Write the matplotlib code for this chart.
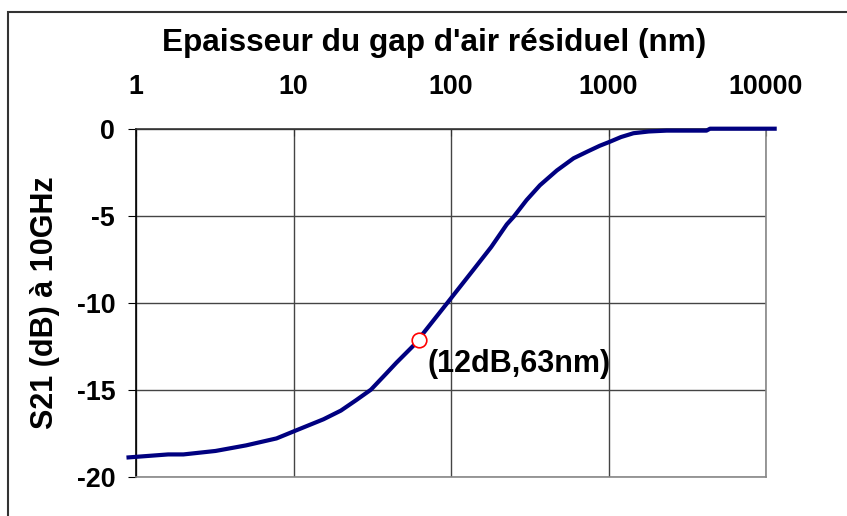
import matplotlib
matplotlib.use("Agg")
import matplotlib.pyplot as plt
import matplotlib.patches as mpatches
from matplotlib.ticker import FixedLocator, NullLocator

plt.rcParams["font.family"] = ["Liberation Sans", "DejaVu Sans"]
plt.rcParams["font.weight"] = "bold"
plt.rcParams["axes.unicode_minus"] = False

# ── données ──
gap_nm = [0.87, 1.6, 2.0, 3.2, 5.0, 7.8, 10, 15.5, 20, 25, 31, 39, 45, 58,
          95, 139, 180, 226, 250, 302, 367, 470, 600, 740, 880, 1020, 1200,
          1440, 1800, 2340, 4190, 4410, 11700]
s21_db = [-18.9, -18.72, -18.72, -18.52, -18.2, -17.8, -17.4, -16.7, -16.2,
          -15.6, -15.0, -14.05, -13.45, -12.45, -10.0, -8.1, -6.8, -5.5,
          -5.06, -4.1, -3.25, -2.4, -1.7, -1.3, -0.98, -0.75, -0.48, -0.26,
          -0.16, -0.11, -0.11, 0.0, 0.0]

point_x = [63]
point_y = [-12.15]
point_label = "(12dB,63nm)"

x_ticks = [1, 10, 100, 1000, 10000]
x_ticklabels = ["1", "10", "100", "1000", "10000"]
y_ticks = [0, -5, -10, -15, -20]

# ── figure ──
W, H = 847, 516
fig = plt.figure(figsize=(W / 100, H / 100), dpi=100)
ax = fig.add_axes([136 / W, 1 - 476.7 / H, 630 / W, 348 / H])

# cadre extérieur
fig.patches.append(mpatches.Rectangle((8 / W, -0.1), 1.2, 1 - 12 / H + 0.1,
                                      transform=fig.transFigure, fill=False,
                                      edgecolor="#333333", linewidth=1.5))

ax.plot(gap_nm, s21_db, color="#000080", linewidth=3, clip_on=False, zorder=3,
        solid_capstyle="butt", solid_joinstyle="round")
ax.plot(point_x, point_y, "o", markersize=10.5, markerfacecolor="white",
        markeredgecolor="red", markeredgewidth=1.2, zorder=4)
ax.text(point_x[0] * 1.13, point_y[0] - 0.5, point_label, fontsize=22,
        fontweight="bold", ha="left", va="top")

ax.set_xscale("log")
ax.set_xlim(1, 10000)
ax.set_ylim(-20, 0)
ax.xaxis.set_major_locator(FixedLocator(x_ticks))
ax.xaxis.set_minor_locator(NullLocator())
ax.set_xticklabels(x_ticklabels)
ax.set_yticks(y_ticks)
ax.xaxis.tick_top()
ax.xaxis.set_label_position("top")

ax.tick_params(axis="x", direction="in", length=5, pad=21, labelsize=19.3,
               color="#333333")
ax.tick_params(axis="y", direction="out", length=6, pad=9, labelsize=19.3)
for lbl in ax.get_xticklabels() + ax.get_yticklabels():
    lbl.set_fontweight("bold")

ax.grid(True, color="#444444", linewidth=1)
ax.set_axisbelow(True)
ax.spines["left"].set_color("black")
ax.spines["top"].set_color("#333333")
ax.spines["right"].set_color("#888888")
ax.spines["bottom"].set_color("#888888")
for s in ax.spines.values():
    s.set_linewidth(1.2)

fig.text(434 / W, 1 - 43 / H, "Epaisseur du gap d'air résiduel (nm)",
         fontsize=22.7, fontweight="bold", ha="center", va="center")
fig.text(45 / W, 1 - 303 / H, "S21 (dB) à 10GHz", fontsize=22,
         fontweight="bold", rotation=90, ha="center", va="center")

fig.savefig("out.png", dpi=100, facecolor="white")
